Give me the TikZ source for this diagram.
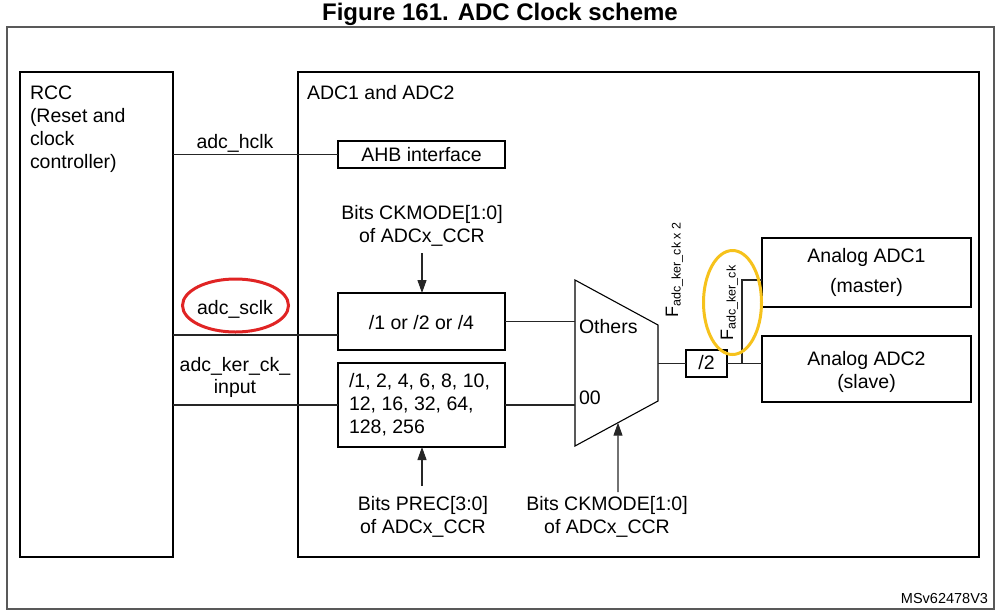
\documentclass[tikz,border=0pt]{standalone}
\usepackage{fontspec}
\setmainfont{Liberation Sans}
\usetikzlibrary{arrows.meta,calc}
\definecolor{annred}{HTML}{E02424}
\definecolor{annyel}{HTML}{F6C21C}
\begin{document}
\begin{tikzpicture}[x=1pt,y=-1pt,
  every node/.style={inner sep=0pt, outer sep=0pt},
  txt/.style={font=\fontsize{19.5}{23}\selectfont},
  tl/.style={txt, anchor=base west},
  tc/.style={txt, anchor=base},
  box/.style={draw=black, line width=1.1pt, rectangle},
  bigbox/.style={draw=black, line width=2.2pt, rectangle},
  wire/.style={line width=1.1pt, draw=black!85},
  arr/.style={wire, -{Triangle[length=13pt,width=9pt]}},
  rot/.style={rotate=90, anchor=base west, font=\fontsize{18}{20}\selectfont}
]
\useasboundingbox (0,0) rectangle (999,614);

% title and frame
\node[anchor=base, font=\fontsize{24}{26}\selectfont\bfseries] (title) at (500,20) {Figure 161. ADC Clock scheme};
\node[draw=black!65, line width=1.5pt, minimum width=987pt, minimum height=582pt] (frame) at (500.5,318) {};
\node[anchor=base east, font=\fontsize{14.5}{16}\selectfont] (ms) at (988,603) {MSv62478V3};

% big blocks
\node[bigbox, minimum width=153pt, minimum height=485pt] (rcc) at (96.5,314.5) {};
\node[bigbox, minimum width=681pt, minimum height=485pt] (adc) at (638.5,314.5) {};
\node[tl] (rcc1) at (30,99) {RCC};
\node[tl] (rcc2) at (30,122) {(Reset and};
\node[tl] (rcc3) at (30,145) {clock};
\node[tl] (rcc4) at (30,168) {controller)};
\node[tl] (adct) at (307,99) {ADC1 and ADC2};

% inner boxes
\node[box, minimum width=167pt, minimum height=27pt] (ahb) at (421.5,154.5) {};
\node[tc] (ahbt) at (421.5,161) {AHB interface};
\node[box, minimum width=167pt, minimum height=57pt] (div1) at (421.5,321.5) {};
\node[tc] (div1t) at (421.5,329) {/1 or /2 or /4};
\node[box, minimum width=167pt, minimum height=84pt] (div2) at (421.5,405) {};
\node[tl] (div2a) at (349,387) {/1, 2, 4, 6, 8, 10,};
\node[tl] (div2b) at (349,410) {12, 16, 32, 64,};
\node[tl] (div2c) at (349,433) {128, 256};
\node[box, minimum width=41pt, minimum height=27pt] (half) at (706.5,363.5) {};
\node[tc] (halft) at (706.5,369.5) {/2};
\node[box, minimum width=209pt, minimum height=69pt] (adc1) at (866.5,272.5) {};
\node[tc] (adc1a) at (866.5,262) {Analog ADC1};
\node[tc] (adc1b) at (866.5,292) {(master)};
\node[box, minimum width=209pt, minimum height=66pt] (adc2) at (866.5,369) {};
\node[tc] (adc2a) at (866.5,365) {Analog ADC2};
\node[tc] (adc2b) at (866.5,388) {(slave)};

% mux
\draw[line width=1.1pt] (575,280) coordinate (muxTL) -- (658,325) coordinate (muxTR)
  -- (658,401) coordinate (muxBR) -- (575,446) coordinate (muxBL) -- cycle;
\coordinate (muxA) at (575,321.5);
\coordinate (muxB) at (575,405);
\coordinate (muxOut) at (658,363.5);
\coordinate (muxBot) at ($(muxBL)!0.518!(muxBR)$);
\node[tl] (oth) at (579,333) {Others};
\node[tl] (zz) at (579,404) {00};

% signal labels
\node[tc] (hclk) at (235,148) {adc\_hclk};
\node[tc] (sclk) at (235,314) {adc\_sclk};
\node[tc] (ker1) at (235,371) {adc\_ker\_ck\_};
\node[tc] (ker2) at (235,393) {input};

\node[tc] (ckA1) at (422,219) {Bits CKMODE[1:0]};
\node[tc] (ckA2) at (422,242) {of ADCx\_CCR};
\node[tc] (pr1) at (423,510) {Bits PREC[3:0]};
\node[tc] (pr2) at (423,533) {of ADCx\_CCR};
\node[tc] (ckB1) at (607,510) {Bits CKMODE[1:0]};
\node[tc] (ckB2) at (607,533) {of ADCx\_CCR};

\node[rot] (f2x) at (678,317.5) {F\raisebox{-2.5pt}{\fontsize{12.5}{14}\selectfont adc\_ker\_ck x 2}};
\node[rot] (f1x) at (733,340.5) {F\raisebox{-2.5pt}{\fontsize{12.5}{14}\selectfont adc\_ker\_ck}};

% connectors
\coordinate (d1in) at (338,335);
\draw[wire] (rcc.east |- ahb.west) -- (ahb.west);
\draw[wire] (rcc.east |- d1in) -- (d1in);
\draw[wire] (rcc.east |- div2.west) -- (div2.west);
\draw[wire] (div1.east) -- (muxA);
\draw[wire] (div2.east) -- (muxB);
\draw[wire] (muxOut) -- (half.west);
\coordinate (junc) at (742,363.5);
\coordinate (a1in) at (762,280);
\draw[wire] (half.east) -- (half.east -| adc2.west);
\draw[wire] (junc) |- (a1in);

\coordinate (ckAs) at (422,253);
\coordinate (prs) at (422,486);
\coordinate (ckBs) at (618,492);
\draw[arr] (ckAs) -- (ckAs |- div1.north);
\draw[arr] (prs) -- (prs |- div2.south);
\draw[arr] (ckBs) -- (muxBot);

% annotations
\draw[annred, line width=3pt] (235.5,305.5) ellipse [x radius=53, y radius=26.5];
\draw[annyel, line width=3pt] (732.5,302.5) ellipse [x radius=29, y radius=52];
\end{tikzpicture}
\end{document}
